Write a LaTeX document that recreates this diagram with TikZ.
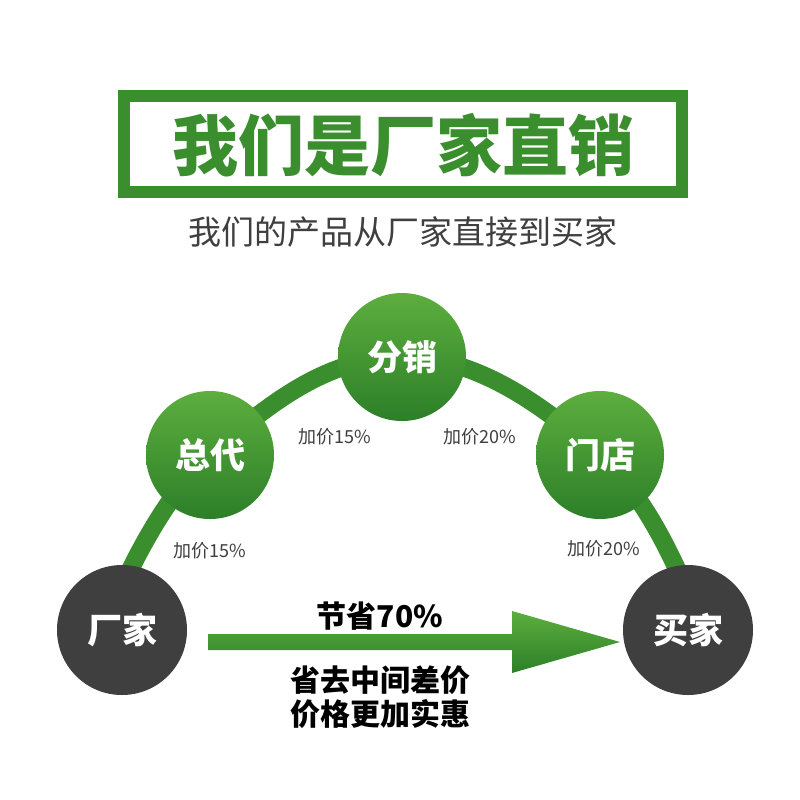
\documentclass[tikz,border=0pt]{standalone}
\usepackage{fontspec}
\newfontfamily\cjk{Noto Sans CJK SC}
\usetikzlibrary{shapes.geometric}
\definecolor{gr}{HTML}{3A8E2E}
\definecolor{grl}{HTML}{5DAE3E}
\definecolor{grd}{HTML}{2C7F28}
\definecolor{dk}{HTML}{3F3F3F}
\tikzset{
 gc/.style={circle,minimum size=128pt,inner sep=0pt,top color=grl,bottom color=grd,draw=none,text=white,font=\cjk\bfseries\fontsize{35}{35}\selectfont},
 dc/.style={circle,minimum size=130pt,inner sep=0pt,fill=dk,text=white,font=\cjk\bfseries\fontsize{35}{35}\selectfont},
 lab/.style={font=\cjk\fontsize{18}{18}\selectfont,text=dk},
 bt/.style={font=\cjk\bfseries\fontsize{30}{32}\selectfont,text=black}
}
\begin{document}
\begin{tikzpicture}[x=1pt,y=-1pt]
\useasboundingbox[fill=white] (0,0) rectangle (800,800);
\fill[gr] (118,90) rectangle (688,198);
\fill[white] (130,102) rectangle (676,186);
\node[font=\cjk\bfseries\fontsize{66}{66}\selectfont,text=gr] (title) at (403,145) {我们是厂家直销};
\node[font=\cjk\fontsize{33}{33}\selectfont,text=dk] (sub) at (403,232) {我们的产品从厂家直接到买家};
\draw[gr,line width=18pt] plot[smooth,tension=0.7] coordinates {(112,610) (210,455) (402,357) (600,455) (694,610)};
\node[dc] (fac) at (122,630) {厂家};
\node[dc] (buy) at (688,630) {买家};
\node[gc] (zd) at (210,455) {总代};
\node[gc] (fx) at (402,357) {分销};
\node[gc] (md) at (600,455) {门店};
\node[lab] (l1) at (210,551) {加价15\%};
\node[lab] (l2) at (335,437) {加价15\%};
\node[lab] (l3) at (480,437) {加价20\%};
\node[lab] (l4) at (604,549) {加价20\%};
\shade[top color=grl,bottom color=grd] (208,634) -- (512,634) -- (512,611) -- (620,642) -- (512,673) -- (512,650) -- (208,650) -- cycle;
\node[bt] (s1) at (380,616) {节省70\%};
\node[bt] (s2) at (380,680) {省去中间差价};
\node[bt] (s3) at (380,714) {价格更加实惠};
\end{tikzpicture}
\end{document}
